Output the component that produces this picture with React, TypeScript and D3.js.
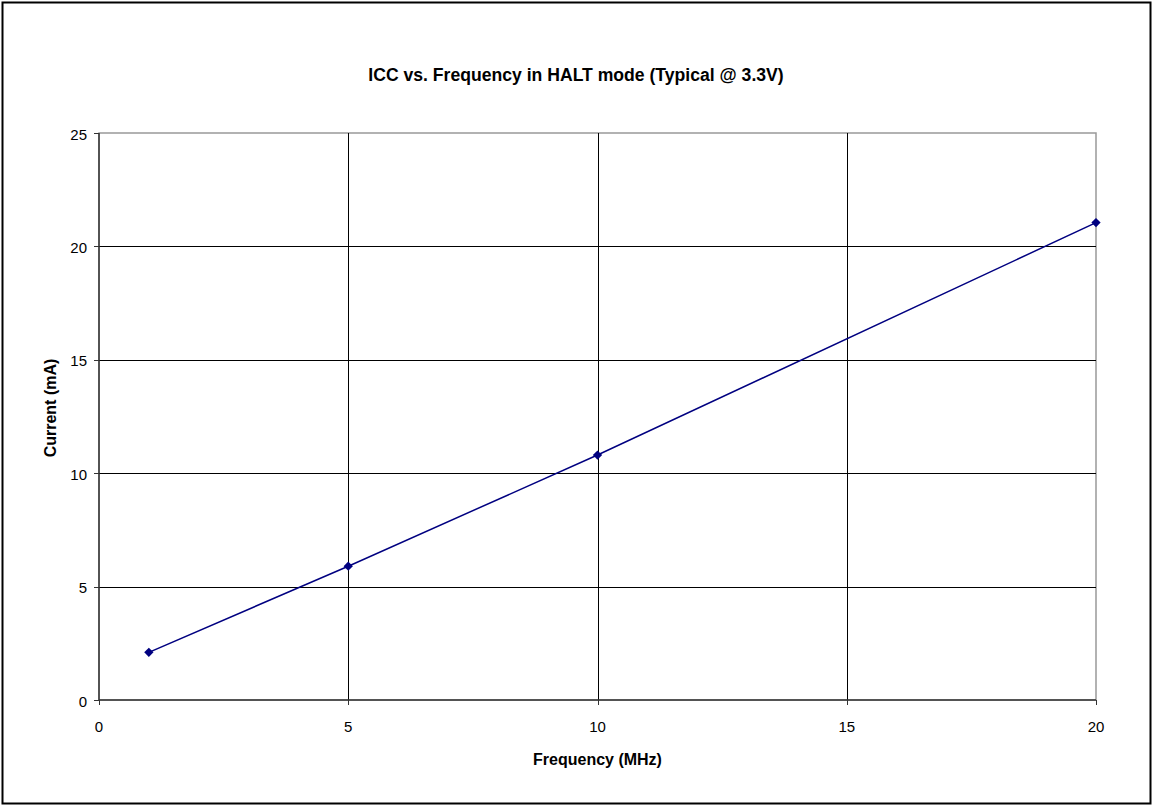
import React from "react";
import * as d3 from "d3";

const frequencies = [1, 5, 10, 20];
const currents = [2.1, 5.9, 10.8, 21.05];
const xTicks = [0, 5, 10, 15, 20];
const yTicks = [0, 5, 10, 15, 20, 25];
const title = "ICC vs. Frequency in HALT mode (Typical @ 3.3V)";
const xTitle = "Frequency (MHz)";
const yTitle = "Current (mA)";

export default function App() {
  const W = 1152, H = 805;
  const left = 99, right = 1096, top = 133, bottom = 700;
  const x = d3.scaleLinear().domain([0, 20]).range([left, right]);
  const y = d3.scaleLinear().domain([0, 25]).range([bottom, top]);
  const line = d3.line<number>().x((_, i) => x(frequencies[i])).y((d) => y(d));
  const font = "'Liberation Sans', Arial, sans-serif";
  const diamond = d3.symbol().type(d3.symbolDiamond2).size(55)();
  return (
    <svg width={W} height={H} style={{ position: "absolute", left: 0, top: 0 }} fontFamily={font}>
      <rect x={0} y={0} width={W} height={H} fill="#fff" />
      <rect x={2.5} y={2.5} width={W - 4} height={H - 4} fill="none" stroke="#000" strokeWidth={2} />
      <text x={W / 2} y={81} textAnchor="middle" fontSize={17.6} fontWeight="bold">{title}</text>
      {/* plot border (gray) */}
      <rect x={left} y={top} width={right - left} height={bottom - top} fill="none" stroke="#999" strokeWidth={1.5} />
      {/* gridlines */}
      {yTicks.filter((t) => t > 0 && t < 25).map((t) => (
        <line key={"gy" + t} x1={left} x2={right} y1={Math.round(y(t)) + 0.5} y2={Math.round(y(t)) + 0.5} stroke="#000" strokeWidth={1} />
      ))}
      {xTicks.filter((t) => t > 0 && t < 20).map((t) => (
        <line key={"gx" + t} y1={top} y2={bottom} x1={Math.round(x(t)) + 0.5} x2={Math.round(x(t)) + 0.5} stroke="#000" strokeWidth={1} />
      ))}
      {/* axes */}
      <line x1={left} x2={left} y1={top} y2={bottom} stroke="#333" strokeWidth={1.5} />
      <line x1={left} x2={right} y1={bottom} y2={bottom} stroke="#333" strokeWidth={1.5} />
      {yTicks.map((t) => (
        <g key={"ty" + t}>
          <line x1={left - 5} x2={left} y1={Math.round(y(t)) + 0.5} y2={Math.round(y(t)) + 0.5} stroke="#333" strokeWidth={1} />
          <text x={left - 12} y={y(t) + 6.5} textAnchor="end" fontSize={15}>{t}</text>
        </g>
      ))}
      {xTicks.map((t) => (
        <g key={"tx" + t}>
          <line y1={bottom} y2={bottom + 5} x1={Math.round(x(t)) + 0.5} x2={Math.round(x(t)) + 0.5} stroke="#333" strokeWidth={1} />
          <text x={x(t)} y={bottom + 32} textAnchor="middle" fontSize={15}>{t}</text>
        </g>
      ))}
      <text x={597.5} y={765} textAnchor="middle" fontSize={16} fontWeight="bold">{xTitle}</text>
      <text transform={`translate(56,408) rotate(-90)`} textAnchor="middle" fontSize={16} fontWeight="bold">{yTitle}</text>
      <path d={line(currents) || ""} fill="none" stroke="#000080" strokeWidth={1.5} />
      {currents.map((c, i) => (
        <path key={"p" + i} d={diamond || ""} transform={`translate(${x(frequencies[i])},${y(c)})`} fill="#000080" />
      ))}
    </svg>
  );
}
